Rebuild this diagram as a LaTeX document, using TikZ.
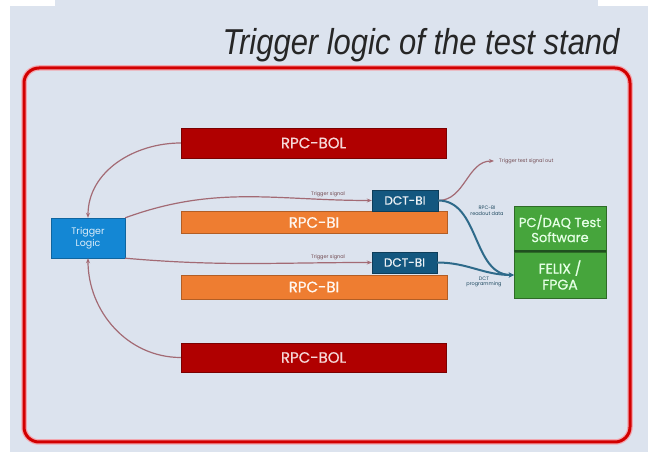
\documentclass[tikz,border=0pt]{standalone}
\usepackage{fontspec}
\setmainfont{Poppins}
\newfontfamily\boxfont[FakeBold=0.8]{Poppins}
\newfontfamily\titlefont[FakeStretch=0.86]{Liberation Sans}
\usepackage{tikz}
\usetikzlibrary{arrows.meta}
\definecolor{bg}{HTML}{DCE3EE}
\definecolor{framered}{HTML}{D20000}
\definecolor{halo}{HTML}{F2A6AE}
\definecolor{bolred}{HTML}{B00000}
\definecolor{boltext}{HTML}{F6D8D8}
\definecolor{biorange}{HTML}{EE7D31}
\definecolor{dctblue}{HTML}{13577F}
\definecolor{tlblue}{HTML}{1487D4}
\definecolor{pcgreen}{HTML}{46A53C}
\definecolor{divgreen}{HTML}{1F4F1F}
\definecolor{trigline}{HTML}{A36A74}
\definecolor{readline}{HTML}{2E6A8A}
\tikzstyle{rpcbol}=[fill=bolred, draw=bolred!70!black, text=boltext, minimum width=265pt, minimum height=30pt, inner sep=0pt, font=\boxfont\fontsize{15}{15}\selectfont]
\tikzstyle{rpcbi}=[fill=biorange, draw=biorange!75!black, text=white!94!orange, minimum width=266pt, minimum height=22pt, inner sep=0pt, font=\boxfont\fontsize{15}{15}\selectfont]
\tikzstyle{dct}=[fill=dctblue, draw=dctblue!70!black, text=white!92!dctblue, minimum width=66pt, minimum height=21pt, inner sep=0pt, font=\boxfont\fontsize{12}{12}\selectfont]
\tikzstyle{daq}=[fill=pcgreen, draw=pcgreen!65!black, text=white!90!green, minimum width=92pt, inner sep=0pt, align=center, font=\boxfont\fontsize{13}{15}\selectfont]
\tikzstyle{trig}=[trigline, line width=1.2pt, -{Stealth[length=5pt,width=4pt]}]
\tikzstyle{readout}=[readline, line width=2pt, -{Stealth[length=5pt,width=5pt]}]
\tikzstyle{tiny}=[inner sep=0pt, align=center, font=\fontsize{5}{5.5}\selectfont]

\begin{document}
\begin{tikzpicture}[x=1pt, y=1pt]
    % background and frame
    \fill[white] (0,0) rectangle (653,452);
    \fill[bg] (10,0) rectangle (648,452);
    \fill[white] (10,446) rectangle (55,452);
    \fill[white] (598,446) rectangle (648,452);
    \useasboundingbox (0,0) rectangle (653,452);
    \draw[halo, line width=5.5pt, rounded corners=15pt] (24,10) rectangle (630,384);
    \draw[framered, line width=3pt, rounded corners=15pt] (24,10) rectangle (630,384);
    \node[anchor=base east, font=\titlefont\itshape\fontsize{36}{36}\selectfont, text=black!85] (title) at (623,397) {Trigger logic of the test stand};

    \node[rpcbol] (bol1) at (313.5,309) {RPC-BOL};
    \node[rpcbi] (bi1) at (314,229.5) {RPC-BI};
    \node[rpcbi, minimum height=24pt] (bi2) at (314,165) {RPC-BI};
    \node[rpcbol, minimum height=29pt] (bol2) at (313.5,94.5) {RPC-BOL};
    \node[dct] (dct1) at (405,251.5) {DCT-BI};
    \node[dct, minimum width=65pt] (dct2) at (404.5,189.5) {DCT-BI};
    \node[fill=tlblue, draw=tlblue!75!black, text=white!85!tlblue, minimum width=74pt, minimum height=40pt, inner sep=0pt, align=center, font=\fontsize{9.5}{12}\selectfont] (TL) at (88,214) {Trigger\\Logic};
    \node[daq, minimum height=45pt] (pc) at (560,223.5) {PC/DAQ Test\\Software};
    \node[daq, minimum height=46pt, font=\boxfont\fontsize{14}{16}\selectfont] (felix) at (560,177) {FELIX /\\FPGA};
    \draw[divgreen, line width=1.5pt] (pc.south west) -- (pc.south east);
    \coordinate (tout) at (494,291);

    \node[tiny, text=trigline!70!black] (ts1) at (328,258) {Trigger signal};
    \node[tiny, text=trigline!70!black] (ts2) at (328,195) {Trigger signal};
    \node[tiny, anchor=west, text=trigline!70!black] (tsout) at (499,291) {Trigger test signal out};
    \node[tiny, text=readline!70!black] (rd) at (487,241) {RPC-BI\\readout data};
    \node[tiny, text=readline!70!black] (prog) at (484,170) {DCT\\programming};

    \foreach \from/\to/\o/\i in
      {bol1.west/TL.north/180/90, bol2.west/TL.south/180/-90,
       TL.north east/dct1.west/20/180, TL.south east/dct2.west/-5/180,
       dct1.east/tout/0/180}
    \draw[trig] (\from) to[out=\o, in=\i] (\to);
    \foreach \from in {dct1, dct2}
    \draw[readout] (\from.east) to[out=0, in=180] (felix.west);
\end{tikzpicture}
\end{document}
